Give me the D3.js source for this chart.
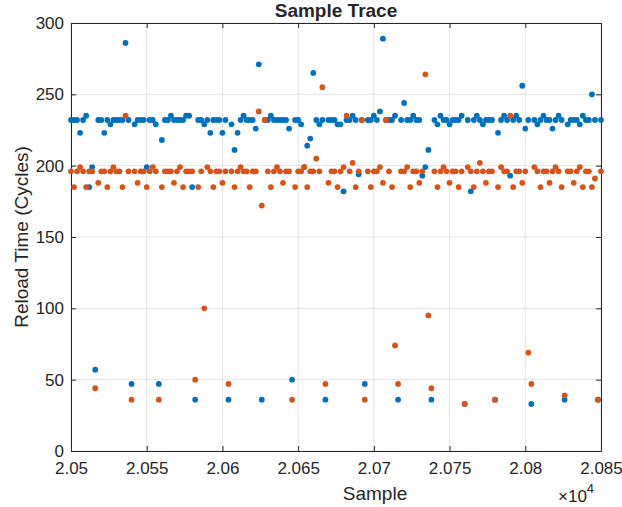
<!DOCTYPE html>
<html>
<head>
<meta charset="utf-8">
<script src="https://cdn.jsdelivr.net/npm/d3@7"></script>
<style>
  body { margin: 0; background: #fff; }
  text { font-family: "Liberation Sans", Arial, sans-serif; fill: #262626; }
</style>
</head>
<body>
<svg class="trace" width="622" height="507"></svg>
<script>
// samples start at 20500 and are taken every 2
const firstSample = 20500
const sampleStep = 2

const xTicks = [20500, 20550, 20600, 20650, 20700, 20750, 20800, 20850]
const yTicks = [0, 50, 100, 150, 200, 250, 300]

// blue series
const seriesA = [
	232,232,232,223,232,235,185,199,57,232,232,223,232,229,232,232,
	232,232,286,232,47,229,232,232,232,199,232,232,229,47,218,232,
	232,235,232,232,232,232,235,235,185,36,232,232,229,232,223,232,
	232,232,223,232,36,229,211,223,232,235,232,232,232,226,271,36,
	232,232,235,232,232,232,232,232,226,50,232,232,229,199,214,219,
	265,232,229,232,36,232,232,232,229,229,182,232,232,235,232,194,
	232,47,232,232,235,232,238,289,232,232,232,235,36,232,244,232,
	232,235,232,232,193,199,211,36,232,229,235,232,232,229,232,232,
	232,235,33,232,182,232,235,232,229,232,232,232,36,223,232,235,
	232,193,232,235,232,256,226,232,33,232,229,232,235,232,232,226,
	232,235,232,36,229,232,232,232,229,235,232,232,250,232,36,232
]

// orange series
const seriesB = [
	196,185,196,199,196,185,196,196,44,188,196,196,185,196,199,196,
	196,185,235,196,36,196,188,196,196,185,196,199,196,36,185,196,
	196,196,188,196,199,185,196,196,196,50,185,196,100,199,196,185,
	196,196,188,196,47,196,185,196,199,196,196,185,196,196,238,172,
	232,196,185,196,199,196,188,196,196,36,185,196,196,199,185,196,
	196,205,196,255,47,188,196,196,185,196,199,235,196,202,185,196,
	232,36,196,185,196,196,199,188,232,196,185,74,47,196,196,199,
	185,196,196,188,196,264,95,44,196,185,196,199,196,188,196,196,
	185,196,33,199,196,185,196,202,196,188,196,196,36,185,199,196,
	196,235,185,196,196,188,196,69,47,199,196,185,196,196,188,196,
	199,196,185,39,196,196,188,196,199,185,196,196,185,191,36,196
]

const colorA = "#0072BD"
const colorB = "#D95319"

const svg = d3.select("svg.trace")

const x = d3.scaleLinear()
	.domain([20500, 20850])
	.range([71, 601])

const y = d3.scaleLinear()
	.domain([0, 300])
	.range([451, 23])

const xFormat = d3.format(".4~f")

// grid
svg.append("g")
	.selectAll("line")
	.data(xTicks)
	.enter()
	.append("line")
	.attr("x1", d => x(d)).attr("x2", d => x(d))
	.attr("y1", y(0)).attr("y2", y(300))
	.attr("stroke", "#e3e3e3")

svg.append("g")
	.selectAll("line")
	.data(yTicks)
	.enter()
	.append("line")
	.attr("x1", x(20500)).attr("x2", x(20850))
	.attr("y1", d => y(d)).attr("y2", d => y(d))
	.attr("stroke", "#e3e3e3")

// axes (ticks point inward, box on all four sides)
const bottomAxis = d3.axisBottom(x).tickValues(xTicks).tickSizeInner(-5).tickSizeOuter(0).tickPadding(11)
	.tickFormat(d => xFormat(d / 1e4))
const topAxis = d3.axisTop(x).tickValues(xTicks).tickSizeInner(-5).tickSizeOuter(0).tickFormat("")
const leftAxis = d3.axisLeft(y).tickValues(yTicks).tickSizeInner(-5).tickSizeOuter(0).tickPadding(7)
const rightAxis = d3.axisRight(y).tickValues(yTicks).tickSizeInner(-5).tickSizeOuter(0).tickFormat("")

function styleAxis(g) {
	g.select(".domain").attr("stroke", "#262626")
	g.selectAll(".tick line").attr("stroke", "#262626")
	g.selectAll(".tick text")
		.attr("fill", "#262626")
		.style("font-size", "17px")
		.style("font-family", "'Liberation Sans', Arial, sans-serif")
}

svg.append("g").attr("transform", "translate(0," + y(0) + ")").call(bottomAxis).call(styleAxis)
svg.append("g").attr("transform", "translate(0," + y(300) + ")").call(topAxis).call(styleAxis)
svg.append("g").attr("transform", "translate(" + x(20500) + ",0)").call(leftAxis).call(styleAxis)
svg.append("g").attr("transform", "translate(" + x(20850) + ",0)").call(rightAxis).call(styleAxis)

// points: blue first, orange drawn over it
function drawSeries(values, color) {
	svg.append("g")
		.selectAll("circle")
		.data(values)
		.enter()
		.append("circle")
		.attr("cx", (d, i) => x(firstSample + i * sampleStep))
		.attr("cy", d => y(d))
		.attr("r", 2.9)
		.attr("fill", color)
}
drawSeries(seriesA, colorA)
drawSeries(seriesB, colorB)

// labels
svg.append("text")
	.attr("x", 336).attr("y", 17)
	.attr("text-anchor", "middle")
	.style("font-size", "19px").style("font-weight", "bold")
	.text("Sample Trace")

svg.append("text")
	.attr("x", 375).attr("y", 500)
	.attr("text-anchor", "middle")
	.style("font-size", "19px")
	.text("Sample")

svg.append("text")
	.attr("transform", "translate(28,237) rotate(-90)")
	.attr("text-anchor", "middle")
	.style("font-size", "19px")
	.text("Reload Time (Cycles)")

const expo = svg.append("text")
	.attr("x", 558).attr("y", 502)
	.style("font-size", "17px")
expo.append("tspan").text("\u00d710")
expo.append("tspan").attr("dy", -9).style("font-size", "13px").text("4")
</script>
</body>
</html>
